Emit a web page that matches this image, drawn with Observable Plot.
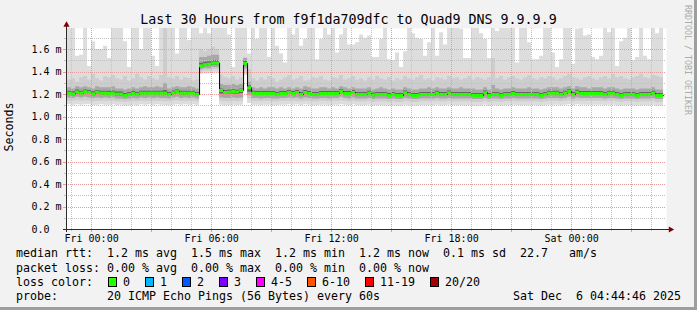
<!DOCTYPE html>
<html><head><meta charset="utf-8">
<script src="https://cdn.jsdelivr.net/npm/d3@7"></script>
<script src="https://cdn.jsdelivr.net/npm/@observablehq/plot@0.6"></script>
<style>
html,body{margin:0;padding:0;background:#f2f2f2;}
#c{position:relative;width:697px;height:310px;background:#f2f2f2;overflow:hidden;font-family:'DejaVu Sans Mono',monospace;color:#000;}
#c .t{position:absolute;white-space:pre;}
#c svg{position:absolute;left:0;top:0;}
</style></head><body><div id="c"></div>
<script>
// ---------- DATA ----------
const title = "Last 30 Hours from f9f1da709dfc to Quad9 DNS 9.9.9.9";
const viewStart = new Date(2025, 11, 4, 22, 44, 46);
const viewEnd = new Date(2025, 11, 6, 4, 44, 46);
const firstStep = new Date(2025, 11, 4, 22, 48, 0);
const stepMinutes = 12;
const yTop = 1.7867;

// median rtt per step (ms)
const med = [1.212,1.205,1.222,1.212,1.225,1.218,1.206,1.22,1.212,1.212,
1.21,1.212,1.203,1.203,1.192,1.2,1.21,1.2,1.212,1.212,
1.212,1.212,1.212,1.212,1.212,1.2,1.215,1.225,1.212,1.212,
1.212,1.212,1.2,
1.455,1.465,1.47,1.48,1.48,
1.236,1.218,1.22,1.227,1.222,1.236,1.476,1.259,
1.212,1.209,1.209,1.209,1.209,1.209,1.2,1.209,1.209,1.218,
1.209,1.218,1.2,1.218,1.209,1.2,1.2,1.209,1.209,1.209,
1.209,1.209,1.227,1.209,1.209,1.218,1.2,
1.2,1.2,1.212,1.195,1.2,1.2,1.2,1.191,1.2,1.191,
1.191,1.215,1.2,1.191,1.191,1.2,1.2,1.2,1.2,1.212,
1.2,1.2,1.215,1.2,1.2,1.2,1.2,1.2,1.191,1.191,
1.191,1.215,1.191,1.2,1.2,1.191,1.2,1.2,
1.209,1.2,1.2,1.2,1.2,1.2,1.2,1.191,1.2,1.212,
1.212,1.212,1.2,1.212,1.227,1.2,1.221,1.209,1.209,1.209,
1.209,1.209,1.209,1.2,1.212,1.212,1.2,1.191,1.2,1.2,
1.2,1.191,1.2,1.2,1.2,1.212,1.191,1.191];

// largest ping per step (ms); 1.8 = above the top of the graph
const mx = [1.8,1.8,1.54,1.55,1.8,1.45,1.67,1.6,1.6,1.63,
1.52,1.8,1.8,1.8,1.67,1.44,1.8,1.8,1.6,1.8,
1.8,1.54,1.45,1.8,1.8,1.8,1.8,1.56,1.8,1.8,
1.68,1.8,1.8,
1.74,1.8,1.74,1.8,1.8,
1.8,1.8,1.73,1.44,1.8,1.8,1.8,1.56,
1.8,1.69,1.8,1.8,1.53,1.8,1.63,1.56,1.48,1.8,
1.73,1.8,1.63,1.69,1.8,1.8,1.51,1.69,1.8,1.73,
1.8,1.57,1.73,1.8,1.64,1.64,1.66,
1.73,1.7,1.72,1.53,1.53,1.69,1.8,1.51,1.5,1.57,
1.44,1.58,1.8,1.74,1.7,1.69,1.54,1.66,1.8,1.54,
1.75,1.64,1.8,1.8,1.8,1.78,1.52,1.52,1.8,1.8,
1.74,1.69,1.52,1.8,1.76,1.8,1.8,1.8,
1.8,1.48,1.8,1.8,1.66,1.51,1.51,1.54,1.8,1.8,
1.57,1.44,1.51,1.8,1.8,1.47,1.78,1.8,1.72,1.73,
1.53,1.51,1.54,1.8,1.75,1.8,1.45,1.67,1.7,1.8,
1.5,1.53,1.8,1.54,1.51,1.8,1.74,1.8];

// upper smoke levels
const hi2 = [1.33,1.34,1.31,1.35,1.36,1.33,1.38,1.34,1.32,1.36,
1.35,1.37,1.34,1.33,1.36,1.32,1.34,1.38,1.35,1.33,
1.36,1.34,1.33,1.37,1.8,1.35,1.34,1.36,1.33,1.35,
1.34,1.32,1.33,
1.6,1.58,1.6,1.62,1.6,
1.37,1.35,1.34,1.36,1.33,1.35,1.53,1.42,
1.34,1.32,1.35,1.33,1.36,1.34,1.31,1.33,1.35,1.37,
1.33,1.34,1.36,1.32,1.33,1.35,1.34,1.36,1.33,1.32,
1.35,1.34,1.37,1.33,1.34,1.36,1.33,
1.34,1.32,1.35,1.33,1.36,1.34,1.33,1.35,1.32,1.34,
1.33,1.36,1.34,1.33,1.35,1.37,1.33,1.34,1.32,1.35,
1.34,1.33,1.36,1.34,1.35,1.33,1.34,1.36,1.33,1.35,
1.34,1.33,1.35,1.52,1.34,1.36,1.33,1.35,
1.36,1.34,1.33,1.35,1.37,1.34,1.33,1.35,1.34,1.36,
1.35,1.33,1.34,1.36,1.38,1.35,1.34,1.33,1.35,1.36,
1.34,1.33,1.35,1.36,1.34,1.38,1.35,1.36,1.34,1.33,
1.35,1.36,1.38,1.35,1.34,1.37,1.36,1.35];

const hi3 = [1.26,1.25,1.27,1.26,1.27,1.26,1.25,1.27,1.26,1.26,
1.26,1.27,1.25,1.25,1.24,1.25,1.26,1.25,1.26,1.27,
1.26,1.26,1.27,1.26,1.30,1.25,1.26,1.27,1.26,1.26,
1.27,1.26,1.25,
1.53,1.53,1.54,1.55,1.55,
1.29,1.28,1.28,1.29,1.28,1.29,1.52,1.31,
1.26,1.25,1.26,1.25,1.26,1.26,1.25,1.26,1.25,1.26,
1.25,1.26,1.25,1.27,1.26,1.25,1.25,1.26,1.26,1.25,
1.26,1.25,1.27,1.26,1.25,1.26,1.25,
1.25,1.25,1.26,1.24,1.25,1.26,1.25,1.24,1.25,1.24,
1.24,1.26,1.25,1.24,1.24,1.25,1.25,1.26,1.25,1.26,
1.25,1.25,1.26,1.25,1.25,1.26,1.25,1.25,1.25,1.24,
1.24,1.26,1.24,1.28,1.25,1.24,1.25,1.25,
1.26,1.25,1.25,1.25,1.26,1.25,1.25,1.24,1.25,1.26,
1.26,1.26,1.25,1.26,1.27,1.25,1.27,1.26,1.26,1.25,
1.26,1.26,1.26,1.25,1.26,1.26,1.25,1.24,1.25,1.25,
1.25,1.24,1.25,1.25,1.25,1.26,1.24,1.24];

const hi4 = [1.23,1.225,1.24,1.23,1.24,1.235,1.225,1.235,1.23,1.23,
1.228,1.23,1.222,1.222,1.21,1.218,1.228,1.218,1.23,1.23,
1.23,1.23,1.23,1.23,1.235,1.218,1.232,1.24,1.23,1.23,
1.23,1.23,1.218,
1.478,1.487,1.492,1.5,1.5,
1.25,1.235,1.237,1.243,1.238,1.25,1.495,1.275,
1.23,1.227,1.227,1.227,1.227,1.227,1.218,1.227,1.227,1.235,
1.227,1.235,1.218,1.235,1.227,1.218,1.218,1.227,1.227,1.227,
1.227,1.227,1.243,1.227,1.227,1.235,1.218,
1.218,1.218,1.23,1.213,1.218,1.218,1.218,1.21,1.218,1.21,
1.21,1.232,1.218,1.21,1.21,1.218,1.218,1.218,1.218,1.23,
1.218,1.218,1.232,1.218,1.218,1.218,1.218,1.218,1.21,1.21,
1.21,1.232,1.21,1.218,1.218,1.21,1.218,1.218,
1.227,1.218,1.218,1.218,1.218,1.218,1.218,1.21,1.218,1.23,
1.23,1.23,1.218,1.23,1.243,1.218,1.238,1.227,1.227,1.227,
1.227,1.227,1.227,1.218,1.23,1.23,1.218,1.21,1.218,1.218,
1.218,1.21,1.218,1.218,1.218,1.23,1.21,1.21];

// lower smoke levels
const lo4 = [1.195,1.19,1.205,1.195,1.208,1.2,1.19,1.203,1.195,1.195,
1.193,1.195,1.187,1.187,1.176,1.184,1.193,1.184,1.195,1.195,
1.195,1.195,1.195,1.195,1.193,1.184,1.198,1.208,1.195,1.195,
1.195,1.195,1.184,
1.44,1.45,1.455,1.462,1.462,
1.205,1.198,1.2,1.205,1.2,1.21,1.455,1.22,
1.195,1.192,1.192,1.192,1.192,1.192,1.184,1.192,1.192,1.2,
1.192,1.2,1.184,1.2,1.192,1.184,1.184,1.192,1.192,1.192,
1.192,1.192,1.208,1.192,1.192,1.2,1.184,
1.184,1.184,1.195,1.178,1.184,1.184,1.184,1.175,1.184,1.175,
1.175,1.198,1.184,1.175,1.175,1.184,1.184,1.184,1.184,1.195,
1.184,1.184,1.198,1.184,1.184,1.184,1.184,1.184,1.175,1.175,
1.175,1.198,1.175,1.184,1.184,1.175,1.184,1.184,
1.192,1.184,1.184,1.184,1.184,1.184,1.184,1.175,1.184,1.195,
1.195,1.195,1.184,1.195,1.208,1.184,1.203,1.192,1.192,1.192,
1.192,1.192,1.192,1.184,1.195,1.195,1.184,1.175,1.184,1.184,
1.184,1.175,1.184,1.184,1.184,1.195,1.175,1.175];

const lo3 = [1.17,1.165,1.175,1.17,1.175,1.17,1.165,1.17,1.165,1.17,
1.165,1.17,1.16,1.16,1.155,1.16,1.165,1.16,1.17,1.165,
1.17,1.165,1.17,1.165,1.165,1.16,1.17,1.175,1.165,1.17,
1.165,1.17,1.16,
1.42,1.43,1.43,1.44,1.44,
1.17,1.165,1.165,1.17,1.165,1.17,1.43,1.19,
1.165,1.165,1.16,1.165,1.165,1.16,1.16,1.165,1.165,1.17,
1.165,1.17,1.16,1.17,1.165,1.16,1.16,1.165,1.165,1.16,
1.165,1.165,1.175,1.165,1.16,1.17,1.16,
1.16,1.16,1.165,1.155,1.16,1.16,1.16,1.155,1.16,1.155,
1.155,1.165,1.16,1.155,1.155,1.16,1.16,1.16,1.16,1.165,
1.16,1.16,1.165,1.16,1.16,1.16,1.16,1.16,1.155,1.155,
1.155,1.165,1.155,1.16,1.16,1.155,1.16,1.16,
1.165,1.16,1.16,1.16,1.16,1.16,1.16,1.155,1.16,1.165,
1.165,1.165,1.16,1.165,1.175,1.16,1.17,1.165,1.165,1.165,
1.165,1.165,1.165,1.16,1.165,1.165,1.16,1.155,1.16,1.16,
1.16,1.155,1.16,1.16,1.16,1.165,1.155,1.155];

const lo2 = [1.14,1.14,1.145,1.14,1.145,1.14,1.135,1.14,1.14,1.14,
1.14,1.14,1.135,1.135,1.13,1.135,1.14,1.135,1.14,1.14,
1.14,1.14,1.14,1.14,1.135,1.135,1.14,1.145,1.14,1.14,
1.14,1.14,1.135,
1.40,1.41,1.41,1.42,1.42,
1.14,1.135,1.135,1.14,1.135,1.14,1.40,1.16,
1.14,1.14,1.135,1.14,1.14,1.135,1.135,1.14,1.14,1.14,
1.14,1.14,1.135,1.14,1.14,1.135,1.135,1.14,1.14,1.135,
1.14,1.14,1.145,1.14,1.135,1.14,1.135,
1.135,1.135,1.14,1.13,1.135,1.135,1.135,1.13,1.135,1.13,
1.13,1.14,1.135,1.13,1.13,1.135,1.135,1.135,1.135,1.14,
1.135,1.135,1.14,1.135,1.135,1.135,1.135,1.135,1.13,1.13,
1.13,1.14,1.13,1.135,1.135,1.13,1.135,1.135,
1.14,1.135,1.135,1.135,1.135,1.135,1.135,1.13,1.135,1.14,
1.14,1.14,1.135,1.14,1.145,1.135,1.14,1.14,1.14,1.14,
1.14,1.14,1.14,1.135,1.14,1.14,1.135,1.13,1.135,1.135,
1.135,1.13,1.135,1.135,1.135,1.14,1.13,1.13];

// smallest ping per step (ms)
const mn = [1.11,1.105,1.11,1.105,1.11,1.11,1.1,1.105,1.11,1.105,
1.105,1.11,1.1,1.105,1.095,1.1,1.105,1.1,1.11,1.105,
1.11,1.105,1.11,1.105,1.1,1.1,1.105,1.11,1.105,1.11,
1.105,1.11,1.1,
1.38,1.385,1.39,1.39,1.395,
1.105,1.1,1.1,1.105,1.1,1.105,1.37,1.12,
1.105,1.105,1.1,1.105,1.105,1.1,1.1,1.105,1.105,1.11,
1.105,1.11,1.1,1.11,1.105,1.1,1.1,1.105,1.105,1.1,
1.105,1.105,1.11,1.105,1.1,1.11,1.1,
1.1,1.1,1.105,1.095,1.1,1.1,1.1,1.095,1.1,1.095,
1.095,1.105,1.1,1.095,1.095,1.1,1.1,1.1,1.1,1.105,
1.1,1.1,1.105,1.1,1.1,1.1,1.1,1.1,1.095,1.095,
1.095,1.105,1.095,1.1,1.1,1.095,1.1,1.1,
1.105,1.1,1.1,1.1,1.1,1.1,1.1,1.095,1.1,1.105,
1.105,1.105,1.1,1.105,1.11,1.1,1.11,1.105,1.105,1.105,
1.105,1.105,1.105,1.1,1.105,1.105,1.1,1.095,1.1,1.1,
1.1,1.095,1.1,1.1,1.1,1.105,1.095,1.095];

const xLabelTimes = [new Date(2025,11,5,0,0), new Date(2025,11,5,6,0), new Date(2025,11,5,12,0), new Date(2025,11,5,18,0), new Date(2025,11,6,0,0)];
const xLabels = ["Fri 00:00", "Fri 06:00", "Fri 12:00", "Fri 18:00", "Sat 00:00"];
const yTicks = [0, 0.2, 0.4, 0.6, 0.8, 1.0, 1.2, 1.4, 1.6];
const yLabels = ["0.0\u00a0\u00a0", "0.2 m", "0.4 m", "0.6 m", "0.8 m", "1.0 m", "1.2 m", "1.4 m", "1.6 m"];
const yMinor = [0.1, 0.3, 0.5, 0.7, 0.9, 1.1, 1.3, 1.5, 1.7];

const legendRtt = "median rtt:  1.2 ms avg  1.5 ms max  1.2 ms min  1.2 ms now  0.1 ms sd  22.7   am/s";
const legendLoss = "packet loss: 0.00 % avg  0.00 % max  0.00 % min  0.00 % now";
const lossLabels = ["0", "1", "2", "3", "4-5", "6-10", "11-19", "20/20"];
const lossColors = ["#26ff00", "#00b8ff", "#0059ff", "#7e00ff", "#ff00ff", "#ff5500", "#ff0000", "#a10000"];
const probeText = "probe:       20 ICMP Echo Pings (56 Bytes) every 60s";
const dateText = "Sat Dec  6 04:44:46 2025";
const watermark = "RRDTOOL / TOBI OETIKER";
const yAxisLabel = "Seconds";

// ---------- BUILD ----------
const arrays = {med, mx, hi2, hi3, hi4, lo4, lo3, lo2, mn};
for (const [k, a] of Object.entries(arrays)) if (a.length !== med.length) throw new Error(k + " has " + a.length + " vs " + med.length);

const MIN = 60000;
const rows = med.map((m, i) => ({
  t: new Date(+firstStep + i * stepMinutes * MIN),
  t2: new Date(+firstStep + (i + 1) * stepMinutes * MIN),
  med: m, mx: mx[i], hi2: hi2[i], hi3: hi3[i], hi4: hi4[i], lo4: lo4[i], lo3: lo3[i], lo2: lo2[i], mn: mn[i]
}));
const last = rows[rows.length - 1];
const pts = rows.concat([{...last, t: last.t2}]);

const W = 697, H = 250, mT = 28, mB = 21, mL = 66, mR = 31;
const pxY = yTop / (H - mT - mB);            // ms per pixel
const pxX = (+viewEnd - +viewStart) / (W - mL - mR); // time per pixel

const hours = d3.timeHour.range(viewStart, viewEnd);
const majorX = hours.filter(d => d.getHours() % 3 === 0);
const minorX = hours.filter(d => d.getHours() % 3 !== 0);

const gridMinor = "#c2c2c2", gridMajor = "#e79a9a", axisCol = "#2c2c2c", arrowCol = "#7f0000";
const band = (y1, y2, fill) => Plot.areaY(pts, {x: "t", y1, y2, curve: "step-after", fill, clip: true});

const chart = Plot.plot({
  width: W, height: H,
  marginTop: mT, marginBottom: mB, marginLeft: mL, marginRight: mR,
  x: {type: "time", domain: [viewStart, viewEnd], axis: null},
  y: {domain: [0, yTop], axis: null},
  style: {fontFamily: "'DejaVu Sans Mono', monospace", fontSize: "10px", background: "transparent", color: "#000", overflow: "visible"},
  marks: [
    Plot.frame({fill: "white", stroke: null}),
    band("mn", "mx", "#dddddd"),
    band("lo2", "hi2", "#cdcdcd"),
    band("lo3", "hi3", "#a8a8a8"),
    band("lo4", "hi4", "#666666"),
    Plot.ruleX(minorX, {stroke: gridMinor, strokeDasharray: "1,1", shapeRendering: "crispEdges"}),
    Plot.ruleX(majorX, {stroke: gridMajor, strokeDasharray: "1,1", shapeRendering: "crispEdges"}),
    Plot.ruleY(yMinor, {stroke: gridMinor, strokeDasharray: "1,1", shapeRendering: "crispEdges"}),
    Plot.ruleY(yTicks.slice(1), {stroke: gridMajor, strokeDasharray: "1,1", shapeRendering: "crispEdges"}),
    // small tick extensions outside the frame
    Plot.ruleX(minorX, {y1: 0, y2: -2 * pxY, stroke: gridMinor, shapeRendering: "crispEdges"}),
    Plot.ruleX(majorX, {y1: 0, y2: -3 * pxY, stroke: gridMajor, shapeRendering: "crispEdges"}),
    Plot.ruleY(yMinor, {x1: new Date(+viewStart - 2 * pxX), x2: viewStart, stroke: gridMinor, shapeRendering: "crispEdges"}),
    Plot.ruleY(yTicks.slice(1), {x1: new Date(+viewStart - 3 * pxX), x2: viewStart, stroke: gridMajor, shapeRendering: "crispEdges"}),
    // median
    Plot.line(pts, {x: "t", y: "med", curve: "step-after", stroke: "#000", strokeWidth: 1}),
    Plot.ruleY(rows, {x1: "t", x2: "t2", y: "med", stroke: lossColors[0], strokeWidth: 3}),
    // axes
    Plot.ruleY([0], {x1: new Date(+viewStart - 3 * pxX), x2: new Date(+viewEnd + 3 * pxX), stroke: axisCol, shapeRendering: "crispEdges"}),
    Plot.ruleX([viewStart], {y1: -3 * pxY, y2: yTop + 2 * pxY, stroke: axisCol, shapeRendering: "crispEdges"}),
    Plot.dot([{x: new Date(+viewEnd + 4.1 * pxX), y: 0}], {x: "x", y: "y", symbol: "triangle", rotate: 90, r: 2.3, fill: arrowCol, stroke: null}),
    Plot.dot([{x: viewStart, y: yTop + 3.6 * pxY}], {x: "x", y: "y", symbol: "triangle", r: 2.3, fill: arrowCol, stroke: null}),
    // labels
    Plot.text(xLabelTimes, {x: d => d, text: (d, i) => xLabels[i], frameAnchor: "bottom", lineAnchor: "top", dy: 5.6, fill: "#000"}),
    Plot.text(yTicks, {y: d => d, text: (d, i) => yLabels[i], frameAnchor: "left", textAnchor: "end", dx: -5, fill: "#000"})
  ]
});

const c = document.getElementById("c");
c.appendChild(chart);

function addText(txt, left, baseline, size, extra = {}) {
  const d = document.createElement("div");
  d.className = "t";
  d.textContent = txt;
  d.style.fontSize = size + "px";
  d.style.lineHeight = size + "px";
  d.style.left = left + "px";
  d.style.top = (baseline - 0.846 * size) + "px";
  Object.assign(d.style, extra);
  c.appendChild(d);
  return d;
}
const LF = 11.63, CW = 7.0;
addText(title, 0, 24, 13.3, {width: W + "px", textAlign: "center"});
addText(legendRtt, 16, 258.3, LF);
addText(legendLoss, 16, 272.5, LF);
addText("loss color:", 16, 286.7, LF);
let bx = 108;
lossLabels.forEach((lab, i) => {
  const b = document.createElement("div");
  Object.assign(b.style, {position: "absolute", left: bx + "px", top: "277px", width: "7px", height: "8px", background: lossColors[i], border: "1px solid #000"});
  c.appendChild(b);
  addText(lab, bx + 15, 286.7, LF);
  bx += 15 + lab.length * CW + 15;
});
addText(probeText, 16, 300.8, LF);
addText(dateText, 0, 300.8, LF, {left: "auto", right: "16px"});

// rotated texts
function addRot(txt, cx, cy, size, deg, color) {
  const d = document.createElement("div");
  d.className = "t";
  d.textContent = txt;
  Object.assign(d.style, {fontSize: size + "px", lineHeight: size + "px", left: cx + "px", top: cy + "px", color,
    transform: `translate(-50%,-50%) rotate(${deg}deg)`});
  c.appendChild(d);
}
addRot(yAxisLabel, 10, 127, LF, -90, "#000");
addRot(watermark, 688, 60, 8.3, 90, "#ababab");

// frame shade
const sr = document.createElement("div");
Object.assign(sr.style, {position: "absolute", right: "0", top: "0", width: "3px", height: "310px", background: "#9e9e9e"});
c.appendChild(sr);
const sb = document.createElement("div");
Object.assign(sb.style, {position: "absolute", left: "0", bottom: "0", width: "697px", height: "3px", background: "#9e9e9e"});
c.appendChild(sb);
</script></body></html>
